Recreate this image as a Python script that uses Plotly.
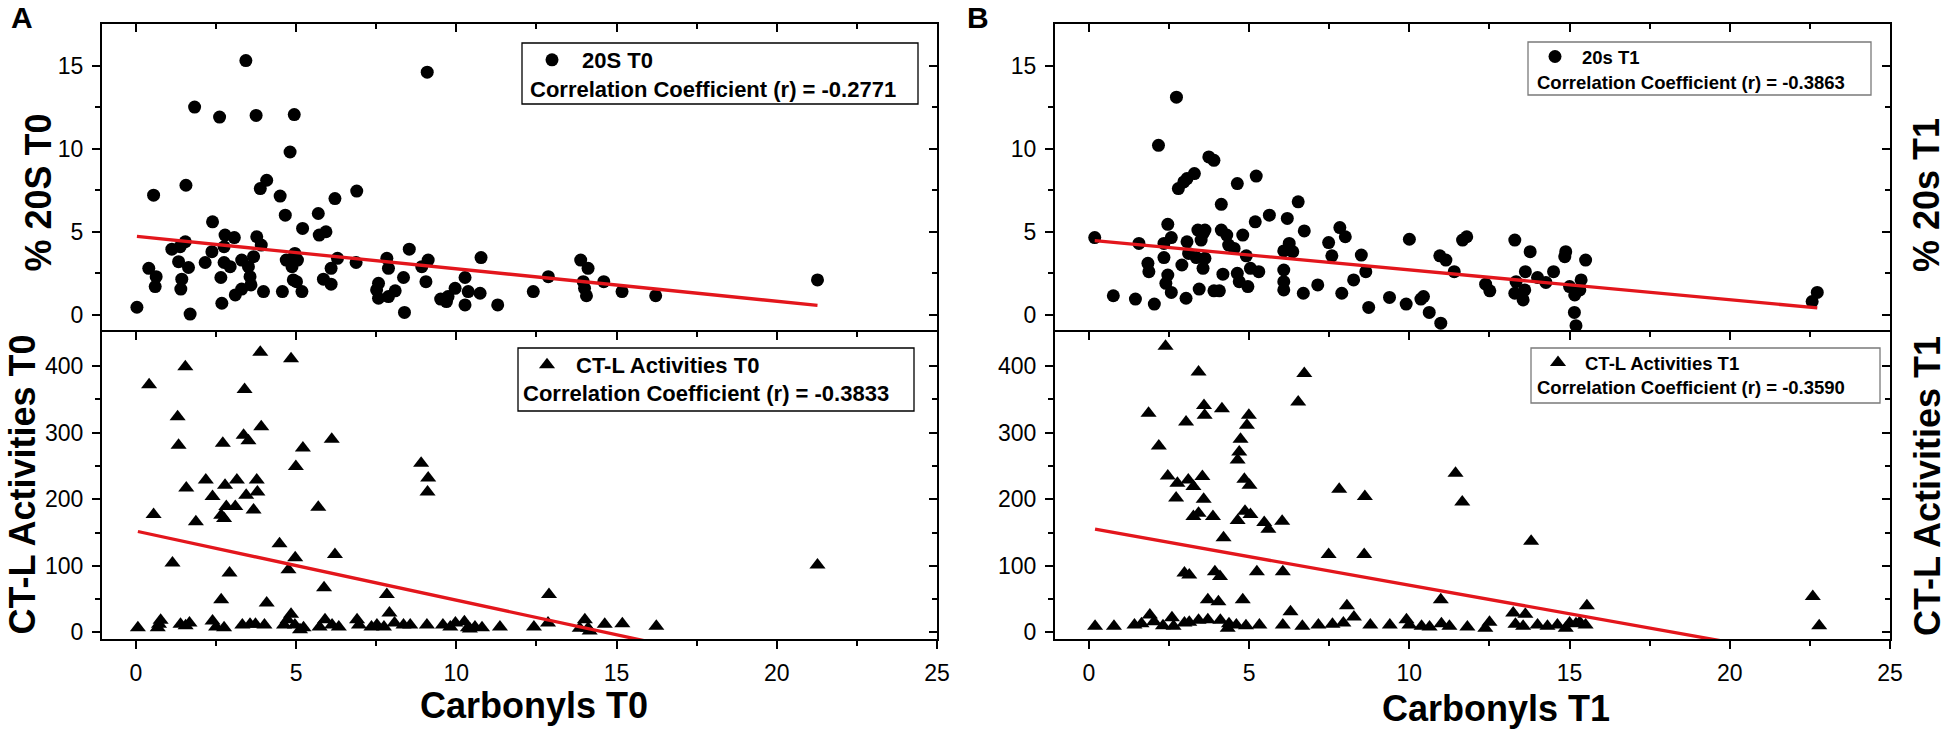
import plotly.graph_objects as go

# ---------------- data ----------------
# Panel A, top: % 20S T0 vs Carbonyls T0
carb_t0_20s = [0.03, 0.55, 0.4, 0.63, 0.6, 1.12, 1.38, 1.54, 1.33, 1.43, 1.4, 1.64, 1.56, 1.83, 1.69,
               2.16, 2.37, 2.39, 2.61, 2.65, 2.68, 2.75, 2.78, 2.75, 2.94, 3.07, 3.1, 3.3, 3.3, 3.43,
               3.51, 3.56, 3.59, 3.67, 3.75, 3.77, 3.91, 3.88, 4.08, 3.98, 4.5, 4.57, 4.66, 4.69, 4.81,
               4.94, 4.87, 4.91, 4.96, 5.04, 5.18, 5.01, 5.2, 5.69, 5.72, 5.93, 5.85, 6.09, 6.09, 6.21,
               6.29, 6.87, 6.89, 7.51, 7.57, 7.57, 7.83, 7.88, 7.88, 8.09, 8.35, 8.38, 8.53, 8.92, 9.12,
               9.05, 9.09, 9.51, 9.69, 9.74, 9.96, 10.27, 10.37, 10.74, 10.77, 11.29, 10.27, 12.4, 12.87,
               13.88, 14.11, 13.96, 14.0, 14.06, 14.6, 15.17, 16.22, 21.27]
pct_20s_t0 = [0.46, 7.2, 2.8, 2.3, 1.7, 3.95, 4.1, 4.4, 3.2, 2.15, 1.55, 2.85, 7.8, 12.5, 0.05,
              3.15, 3.8, 5.6, 11.9, 2.25, 0.7, 4.1, 4.8, 3.15, 2.9, 4.65, 1.2, 1.55, 3.3, 15.3,
              2.9, 2.3, 1.8, 3.5, 12.0, 4.7, 4.2, 7.6, 8.1, 1.4, 7.15, 1.4, 6.0, 3.3, 9.8,
              12.05, 2.9, 2.1, 3.7, 3.3, 1.4, 2.0, 5.2, 6.1, 4.8, 5.0, 2.15, 1.85, 2.8, 7.0,
              3.4, 3.15, 7.45, 1.5, 1.9, 1.0, 3.4, 2.8, 1.1, 1.45, 2.25, 0.15, 3.95, 2.9, 3.3,
              2.0, 14.6, 0.95, 0.8, 1.1, 1.6, 0.6, 1.4, 1.3, 3.45, 0.6, 2.25, 1.4, 2.3,
              3.3, 2.8, 2.0, 1.6, 1.15, 2.0, 1.4, 1.15, 2.1]

# Panel A, bottom: CT-L Activities T0 vs Carbonyls T0
carb_t0_ctl = [0.41, 0.55, 1.14, 1.3, 1.33, 1.54, 1.57, 1.87, 2.18, 2.39, 2.66, 2.71, 2.78, 2.66, 2.82,
               2.75, 2.92, 3.1, 3.15, 3.36, 3.39, 3.51, 3.44, 3.67, 3.77, 3.79, 3.88, 3.91, 4.08, 4.48,
               4.76, 4.97, 4.84, 4.99, 5.21, 5.69, 5.87, 6.11, 6.21, 7.83, 8.9, 9.12, 9.1, 12.89, 21.27,
               0.06, 0.72, 0.77, 0.68, 1.39, 1.55, 1.67, 2.39, 2.5, 2.75, 3.32, 3.56, 3.73, 4.01, 4.73,
               4.84, 4.62, 4.96, 5.12, 5.23, 5.73, 5.9, 6.12, 6.33, 6.9, 6.96, 7.35, 7.52, 7.74, 7.91,
               8.07, 8.35, 8.56, 9.08, 9.58, 9.81, 9.97, 10.25, 10.36, 10.58, 10.8, 10.42, 11.36, 12.42,
               12.86, 13.85, 14.01, 14.11, 14.16, 14.63, 15.18, 16.24]
ctl_t0 = [372, 177, 104, 324, 281, 399, 217, 166, 229, 204, 49, 284, 221, 176, 189,
          171, 89, 189, 229, 296, 365, 288, 206, 184, 229, 211, 421, 309, 44, 133,
          94, 112, 411, 249, 277, 188, 67, 290, 117, 57, 254, 232, 211, 57, 101,
          7, 12, 18, 7, 12, 10, 14, 17, 8, 7, 11, 12, 12, 11, 19,
          27, 11, 11, 4, 7, 8, 19, 11, 8, 19, 11, 8, 11, 8, 29,
          14, 11, 11, 11, 11, 8, 14, 16, 7, 8, 7, 5, 8, 8,
          14, 6, 19, 6, 2, 12, 13, 9]

# Panel B, top: % 20s T1 vs Carbonyls T1
carb_t1_20s = [0.18, 0.76, 1.45, 1.56, 1.84, 1.87, 2.04, 2.17, 2.34, 2.46, 2.4, 2.57, 2.46, 2.34, 2.57,
               2.73, 2.79, 2.96, 3.06, 3.29, 2.9, 3.03, 3.06, 3.11, 3.35, 3.4, 3.56, 3.5, 3.62, 3.62,
               3.56, 3.44, 3.74, 3.9, 3.9, 4.13, 4.13, 4.18, 4.07, 4.3, 4.36, 4.53, 4.63, 4.63, 4.69,
               4.8, 4.91, 4.96, 5.04, 5.19, 5.22, 5.3, 5.63, 6.08, 6.08, 6.08, 6.08, 6.19, 6.25, 6.36,
               6.53, 6.69, 6.72, 7.14, 7.48, 7.58, 7.83, 8.0, 7.89, 8.26, 8.5, 8.64, 8.73, 9.38, 9.9,
               10.0, 10.36, 10.44, 10.62, 10.98, 10.95, 11.14, 11.4, 11.66, 11.79, 12.38, 12.51, 13.29,
               13.33, 13.29, 13.55, 13.6, 13.62, 13.77, 14.0, 14.26, 14.5, 14.85, 14.88, 15.0, 15.16,
               15.32, 15.36, 15.15, 15.2, 15.5, 22.57, 22.73]
pct_20s_t1 = [4.65, 1.15, 0.95, 4.3, 3.1, 2.6, 0.65, 10.2, 3.45, 2.4, 1.9, 1.35, 5.45, 4.3, 4.65,
              13.1, 7.6, 8.0, 8.2, 8.5, 3.0, 1.0, 4.4, 3.7, 3.45, 5.1, 4.9, 4.5, 5.1, 3.4,
              2.8, 1.55, 9.5, 9.3, 1.45, 6.65, 5.1, 2.45, 1.45, 4.8, 4.2, 4.0, 7.9, 2.5, 2.0,
              4.8, 3.55, 1.7, 2.8, 5.6, 8.35, 2.6, 6.0, 3.85, 2.7, 2.0, 1.5, 5.8, 4.3, 3.8,
              6.8, 1.3, 5.05, 1.8, 4.35, 3.55, 5.25, 4.7, 1.3, 2.1, 3.6, 2.6, 0.45, 1.05, 0.65,
              4.55, 0.95, 1.1, 0.15, -0.5, 3.55, 3.3, 2.6, 4.5, 4.7, 1.85, 1.45, 4.5,
              2.0, 1.3, 0.9, 1.5, 2.6, 3.8, 2.25, 1.95, 2.6, 3.5, 3.8, 1.7, 1.2,
              1.5, 2.1, 0.15, -0.65, 3.3, 0.8, 1.35]

# Panel B, bottom: CT-L Activities T1 vs Carbonyls T1
carb_t1_ctl = [2.39, 3.42, 6.72, 6.53, 1.86, 3.59, 3.61, 4.15, 3.03, 4.99, 4.93, 4.73, 4.69, 4.64, 2.18,
               2.46, 2.76, 3.1, 3.26, 3.54, 2.72, 3.58, 3.26, 3.42, 3.87, 4.85, 5.01, 4.87, 5.04, 4.64,
               5.47, 6.03, 7.81, 8.61, 4.2, 5.6, 2.98, 3.13, 3.93, 4.09, 5.24, 6.05, 3.71, 4.04, 4.8,
               7.48, 8.59, 6.29, 8.05, 8.27, 11.44, 11.65, 13.8, 10.98, 15.54, 22.59, 22.79,
               0.19, 0.78, 1.42, 1.64, 1.9, 2.03, 2.31, 2.59, 2.64, 2.98, 3.13, 3.42, 3.71, 4.1,
               4.33, 4.37, 4.6, 4.9, 5.32, 6.05, 6.66, 7.16, 7.6, 7.94, 8.78, 9.39, 9.91, 10.0,
               10.38, 10.63, 11.0, 11.25, 11.81, 12.37, 12.5, 13.24, 13.62, 13.31, 13.55, 14.0,
               14.31, 14.62, 14.88, 15.0, 15.2, 15.32, 15.5]
ctl_t1 = [430, 391, 389, 346, 329, 341, 326, 336, 316, 326, 311, 290, 271, 259, 280,
          235, 224, 229, 219, 234, 202, 200, 174, 179, 174, 230, 221, 182, 177, 168,
          165, 167, 215, 204, 142, 155, 89, 86, 91, 84, 91, 91, 49, 46, 49,
          117, 117, 31, 40, 23, 239, 196, 137, 49, 40, 54, 10,
          9, 9, 11, 13, 26, 16, 10, 22, 9, 14, 15, 18, 19, 18,
          6, 13, 11, 10, 11, 11, 9, 11, 12, 14, 11, 11, 19, 11,
          9, 8, 13, 9, 8, 6, 15, 29, 27, 12, 9, 11,
          9, 11, 6, 14, 13, 15, 11]

# Linear fit lines (end points)
fit_20s_t0_x = [0.03, 21.27]
fit_20s_t0_y = [4.72, 0.57]
fit_ctl_t0_x = [0.06, 21.27]
fit_ctl_t0_y = [151.5, -68.7]
fit_20s_t1_x = [0.18, 22.73]
fit_20s_t1_y = [4.47, 0.42]
fit_ctl_t1_x = [0.19, 22.79]
fit_ctl_t1_y = [155.0, -39.0]

r_values = ["-0.2771", "-0.3833", "-0.3863", "-0.3590"]
series_names = ["20S T0", "CT-L Activities T0", "20s T1", "CT-L Activities T1"]
x_titles = ["Carbonyls T0", "Carbonyls T1"]
y_titles = ["% 20S T0", "CT-L Activities T0", "% 20s T1", "CT-L Activities T1"]
panel_letters = ["A", "B"]

x_ticks = [0, 5, 10, 15, 20, 25]
x_minor = [2.5, 7.5, 12.5, 17.5, 22.5]
y_ticks_20s = [0, 5, 10, 15]
y_minor_20s = [2.5, 7.5, 12.5]
y_ticks_ctl = [0, 100, 200, 300, 400]
y_minor_ctl = [50, 150, 250, 350]

# ---------------- layout geometry (pixels) ----------------
W, H = 1954, 748
ML, MR, MT, MB = 102, 64, 24, 109
PW = W - ML - MR
PH = H - MT - MB


def px(xp):
    return (xp - ML) / PW


def py(yp):
    return (H - MB - yp) / PH


DOM_A = [0.0, px(937)]
DOM_B = [px(1055), 1.0]
DOM_TOP = [0.5, 1.0]
DOM_BOT = [0.0, 0.5]
X_RANGE = [-1.06, 25]
Y_RANGE_20S = [-1, 17.5]
Y_RANGE_CTL = [-10, 452]

FONT = "Liberation Sans, Arial, sans-serif"
RED = "#e3161c"

BASE = dict(showline=True, linecolor="black", linewidth=2, showgrid=False, zeroline=False,
            tickcolor="black", tickwidth=2, ticklen=8, fixedrange=True, automargin=False,
            tickfont=dict(family=FONT, size=23, color="black"), ticklabelstandoff=4)


def xcfg(ticks, labels, side, anchor, domain=None, overlaying=None, mirror=False):
    d = dict(BASE, range=X_RANGE, tickmode="array", tickvals=x_ticks,
             ticktext=[str(v) for v in x_ticks], ticks=ticks, showticklabels=labels,
             side=side, anchor=anchor, mirror=mirror,
             minor=dict(tickmode="array", tickvals=x_minor, ticks=ticks, ticklen=5,
                        tickwidth=2, tickcolor="black"))
    if domain is not None:
        d["domain"] = domain
    if overlaying is not None:
        d["overlaying"] = overlaying
    return d


def ycfg(rng, tv, mv, ticks, labels, side, anchor, domain=None, overlaying=None):
    d = dict(BASE, range=rng, tickmode="array", tickvals=tv, ticktext=[str(v) for v in tv],
             ticks=ticks, showticklabels=labels, side=side, anchor=anchor,
             minor=dict(tickmode="array", tickvals=mv, ticks=ticks, ticklen=5,
                        tickwidth=2, tickcolor="black"))
    if domain is not None:
        d["domain"] = domain
    if overlaying is not None:
        d["overlaying"] = overlaying
    return d


fig = go.Figure()

panels = [
    ("x", "y", carb_t0_20s, pct_20s_t0, "circle", 13, fit_20s_t0_x, fit_20s_t0_y, "legend"),
    ("x2", "y2", carb_t0_ctl, ctl_t0, "triangle-up", 14, fit_ctl_t0_x, fit_ctl_t0_y, "legend2"),
    ("x3", "y3", carb_t1_20s, pct_20s_t1, "circle", 13, fit_20s_t1_x, fit_20s_t1_y, "legend3"),
    ("x4", "y4", carb_t1_ctl, ctl_t1, "triangle-up", 14, fit_ctl_t1_x, fit_ctl_t1_y, "legend4"),
]

for i, (xa, ya, xd, yd, sym, sz, fx, fy, lg) in enumerate(panels):
    fig.add_trace(go.Scatter(x=xd, y=yd, mode="markers", name=series_names[i],
                             marker=dict(symbol=sym, size=sz, color="black", line=dict(width=0)),
                             xaxis=xa, yaxis=ya, legend=lg, showlegend=True, hoverinfo="skip"))
    fig.add_trace(go.Scatter(x=fx, y=fy, mode="lines", line=dict(color=RED, width=3.3),
                             xaxis=xa, yaxis=ya, showlegend=False, hoverinfo="skip"))

# empty traces so that the mirror (overlay) axes get drawn
for xa, ya in [("x", "y5"), ("x2", "y6"), ("x5", "y2"), ("x3", "y7"), ("x4", "y8"), ("x6", "y4")]:
    fig.add_trace(go.Scatter(x=[], y=[], xaxis=xa, yaxis=ya, showlegend=False, hoverinfo="skip"))

layout = dict(
    width=W, height=H, autosize=False,
    margin=dict(l=ML, r=MR, t=MT, b=MB, pad=0, autoexpand=False),
    paper_bgcolor="white", plot_bgcolor="white",
    font=dict(family=FONT, color="black"),
    # top subplots: only the top frame line (the divider is drawn by the lower subplot)
    xaxis=xcfg("inside", False, "top", "y", domain=DOM_A, mirror=False),
    yaxis=ycfg(Y_RANGE_20S, y_ticks_20s, y_minor_20s, "outside", True, "left", "x", domain=DOM_TOP),
    yaxis5=ycfg(Y_RANGE_20S, y_ticks_20s, y_minor_20s, "inside", False, "right", "x", overlaying="y"),
    xaxis2=xcfg("outside", True, "bottom", "y2", domain=DOM_A, mirror=False),
    yaxis2=ycfg(Y_RANGE_CTL, y_ticks_ctl, y_minor_ctl, "outside", True, "left", "x2", domain=DOM_BOT),
    yaxis6=ycfg(Y_RANGE_CTL, y_ticks_ctl, y_minor_ctl, "inside", False, "right", "x2", overlaying="y2"),
    xaxis5=xcfg("inside", False, "top", "y2", overlaying="x2"),
    xaxis3=xcfg("inside", False, "top", "y3", domain=DOM_B, mirror=False),
    yaxis3=ycfg(Y_RANGE_20S, y_ticks_20s, y_minor_20s, "outside", True, "left", "x3", domain=DOM_TOP),
    yaxis7=ycfg(Y_RANGE_20S, y_ticks_20s, y_minor_20s, "inside", False, "right", "x3", overlaying="y3"),
    xaxis4=xcfg("outside", True, "bottom", "y4", domain=DOM_B, mirror=False),
    yaxis4=ycfg(Y_RANGE_CTL, y_ticks_ctl, y_minor_ctl, "outside", True, "left", "x4", domain=DOM_BOT),
    yaxis8=ycfg(Y_RANGE_CTL, y_ticks_ctl, y_minor_ctl, "inside", False, "right", "x4", overlaying="y4"),
    xaxis6=xcfg("inside", False, "top", "y4", overlaying="x4"),
)

# legend boxes: (box left, top, right, bottom, marker row y, corr text x, corr text y, font size, itemwidth, border)
boxes = [
    (522, 43, 918, 104, 60, 528, 89, 22, 50, "black"),
    (518, 348, 914, 411, 365, 521, 394, 22, 48, "black"),
    (1528, 42, 1871, 95, 57, 1535, 82, 18.5, 44, "#7a7a7a"),
    (1531, 348, 1880, 403, 363, 1535, 388, 18.5, 44, "#7a7a7a"),
]
legend_keys = ["legend", "legend2", "legend3", "legend4"]
shapes = []
annotations = []
for i, (bl, bt, br, bb, my, cx, cy, fs, iw, bc) in enumerate(boxes):
    layout[legend_keys[i]] = dict(
        xref="paper", yref="paper", x=px(bl), y=py(my),
        xanchor="left", yanchor="middle", bgcolor="rgba(0,0,0,0)", borderwidth=0,
        itemwidth=iw, font=dict(family=FONT, size=fs, color="black", weight="bold"),
    )
    shapes.append(dict(type="rect", xref="paper", yref="paper", x0=px(bl), x1=px(br),
                       y0=py(bb), y1=py(bt), line=dict(color=bc, width=1.3),
                       fillcolor="rgba(0,0,0,0)", layer="above"))
    annotations.append(dict(text="Correlation Coefficient (r) = " + r_values[i],
                            xref="paper", yref="paper", x=px(cx), y=py(cy),
                            xanchor="left", yanchor="middle", showarrow=False,
                            font=dict(family=FONT, size=fs, color="black", weight="bold")))

title_font = dict(family=FONT, size=36, color="black", weight="bold")
y_title_pos = [(37.5, 193), (22.5, 485), (1926, 195), (1927, 486)]
for t, (xp, yp) in zip(y_titles, y_title_pos):
    annotations.append(dict(text=t, xref="paper", yref="paper", x=px(xp), y=py(yp),
                            xanchor="center", yanchor="middle", textangle=-90,
                            showarrow=False, font=title_font))
x_title_pos = [(534, 705), (1496, 708)]
for t, (xp, yp) in zip(x_titles, x_title_pos):
    annotations.append(dict(text=t, xref="paper", yref="paper", x=px(xp), y=py(yp),
                            xanchor="center", yanchor="middle", showarrow=False, font=title_font))
for t, (xp, yp) in zip(panel_letters, [(21.5, 18), (978, 18)]):
    annotations.append(dict(text=t, xref="paper", yref="paper", x=px(xp), y=py(yp),
                            xanchor="center", yanchor="middle", showarrow=False,
                            font=dict(family=FONT, size=30, color="black", weight="bold")))

layout["shapes"] = shapes
layout["annotations"] = annotations
fig.update_layout(**layout)

fig.write_html("out.html", include_plotlyjs=True, full_html=True,
               config={"displayModeBar": False},
               post_script="document.body.style.margin='0';document.body.style.overflow='hidden';")
